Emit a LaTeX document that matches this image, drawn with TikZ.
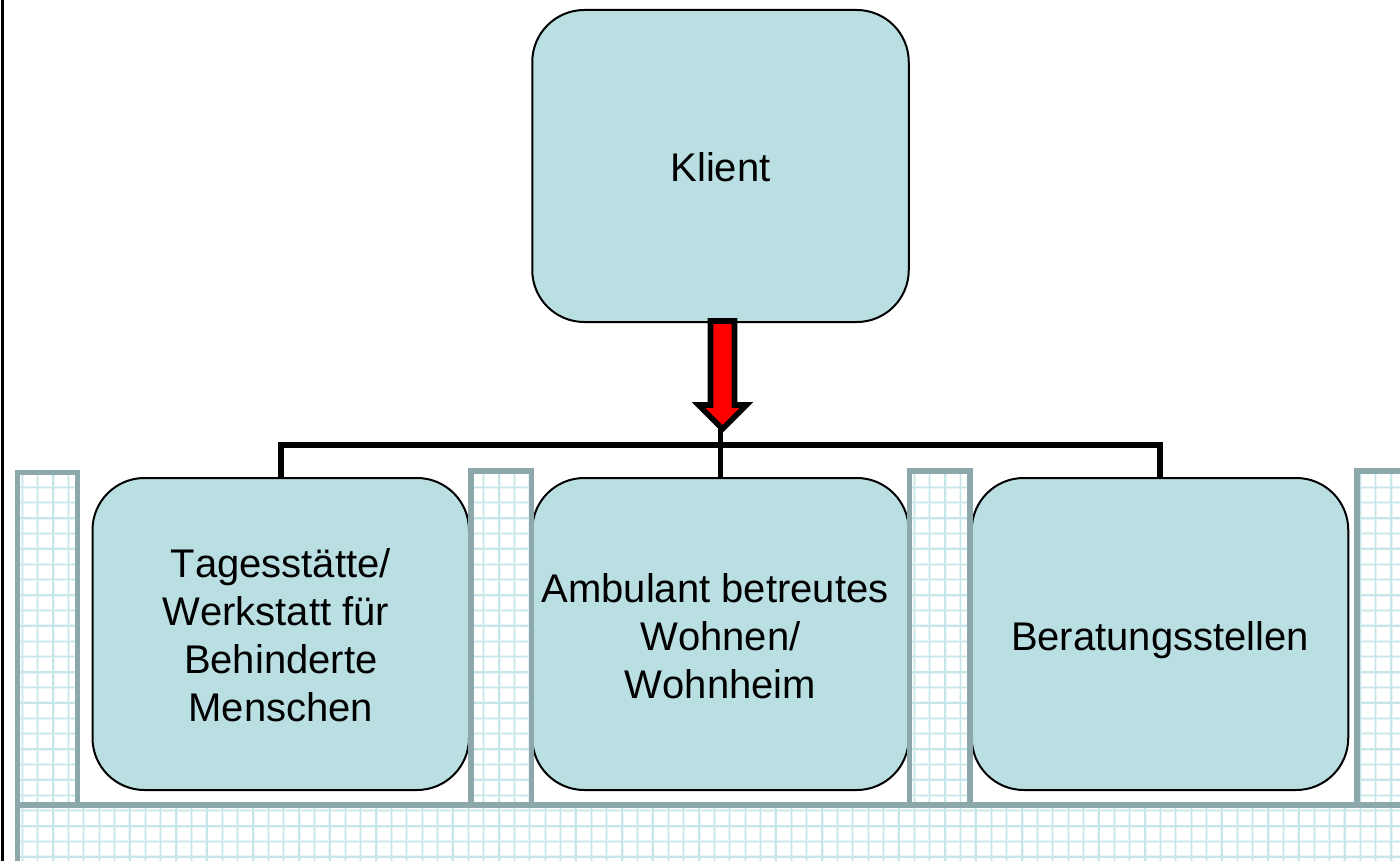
\documentclass[tikz,border=0pt]{standalone}
\usepackage{fontspec}
\setmainfont[Kerning=Off]{Liberation Sans}
\definecolor{boxfill}{HTML}{B9DFE3}
\definecolor{frameC}{HTML}{8CA8AA}
\definecolor{gridcore}{HTML}{C6E6EA}
\definecolor{gridhalo}{HTML}{E8F5F7}
\tikzset{
  card/.style={draw=black,line width=2pt,fill=boxfill,rounded corners=52pt,
    minimum width=376.5pt,minimum height=312pt,inner sep=0pt,align=center,
    font=\fontsize{40}{48}\selectfont,
    execute at begin node={\rule{0pt}{42pt}},
    execute at end node={\rule[-10pt]{0pt}{10pt}}},
  frameline/.style={draw=frameC,line width=5.5pt,line join=miter},
  gridglow/.style={draw=gridhalo,line width=3pt},
  gridfine/.style={draw=gridcore,line width=1.3pt},
  busline/.style={draw=black,line width=5.6pt,line cap=butt,line join=miter},
  redarrow/.style={draw=black,fill=red,line width=5.6pt,line join=miter,miter limit=10}
}
\begin{document}
\begin{tikzpicture}[x=1pt,y=-1pt]
\useasboundingbox (0,0) rectangle (1400,861);
\clip (0,0) rectangle (1400,861);
\fill[white] (0,0) rectangle (1400,861);
% left edge line
\draw[black,line width=2.2pt] (2.5,0) -- (2.5,861);
% cards
\node[card] (klient) at (720.5,166) {Klient};
\node[card] (tages) at (280.75,634) {\rule{0pt}{41pt}Tagesstätte/\\Werkstatt für\kern10pt\\Behinderte\\Menschen};
\node[card] (ambulant) at (720.5,634) {\rule{0pt}{42pt}Ambulant betreutes\kern11pt\\Wohnen/\\Wohnheim};
\node[card] (beratung) at (1160,634) {Beratungsstellen};
% grid of the frame, white inside
\fill[white] (17.5,472.5) rectangle (77.5,805)
      (471,471) rectangle (531.3,805)
      (909.5,471) rectangle (970.2,805)
      (1357,471) rectangle (1410,805)
      (17.5,804.8) rectangle (1410,870);
\begin{scope}
\clip (17.5,472.5) rectangle (77.5,805)
      (471,471) rectangle (531.3,805)
      (909.5,471) rectangle (970.2,805)
      (1357,471) rectangle (1410,805)
      (17.5,804.8) rectangle (1410,870);
\foreach \n in {0,...,89}{\draw[gridglow] ({22.3+15.38*\n},460) -- ({22.3+15.38*\n},870);}
\foreach \n in {0,...,26}{\draw[gridglow] (0,{471.9+15.4*\n}) -- (1400,{471.9+15.4*\n});}
\foreach \n in {0,...,89}{\draw[gridfine] ({22.3+15.38*\n},460) -- ({22.3+15.38*\n},870);}
\foreach \n in {0,...,26}{\draw[gridfine] (0,{471.9+15.4*\n}) -- (1400,{471.9+15.4*\n});}
\end{scope}
% frame
\draw[frameline] (17.5,805) rectangle (77.5,472.5);
\draw[frameline] (471,805) rectangle (531.3,471);
\draw[frameline] (909.5,805) rectangle (970.2,471);
\draw[frameline] (1357,805) rectangle (1420,471);
\draw[frameline] (17.5,880) rectangle (1420,804.8);
% connectors
\coordinate (bus) at (720.5,445);
\coordinate (tip) at (720.5,428);
\draw[busline] (tages.north) |- (bus) -| (beratung.north);
\draw[busline] (ambulant.north) -- (tip);
% block arrow
\coordinate (pfeil) at (722.5,321);
\draw[redarrow] (pfeil) ++(-12,0) -- ++(0,84) -- ++(-12,0) -- ++(24,24) -- ++(24,-24) -- ++(-12,0) -- ++(0,-84) -- cycle;
\end{tikzpicture}
\end{document}
